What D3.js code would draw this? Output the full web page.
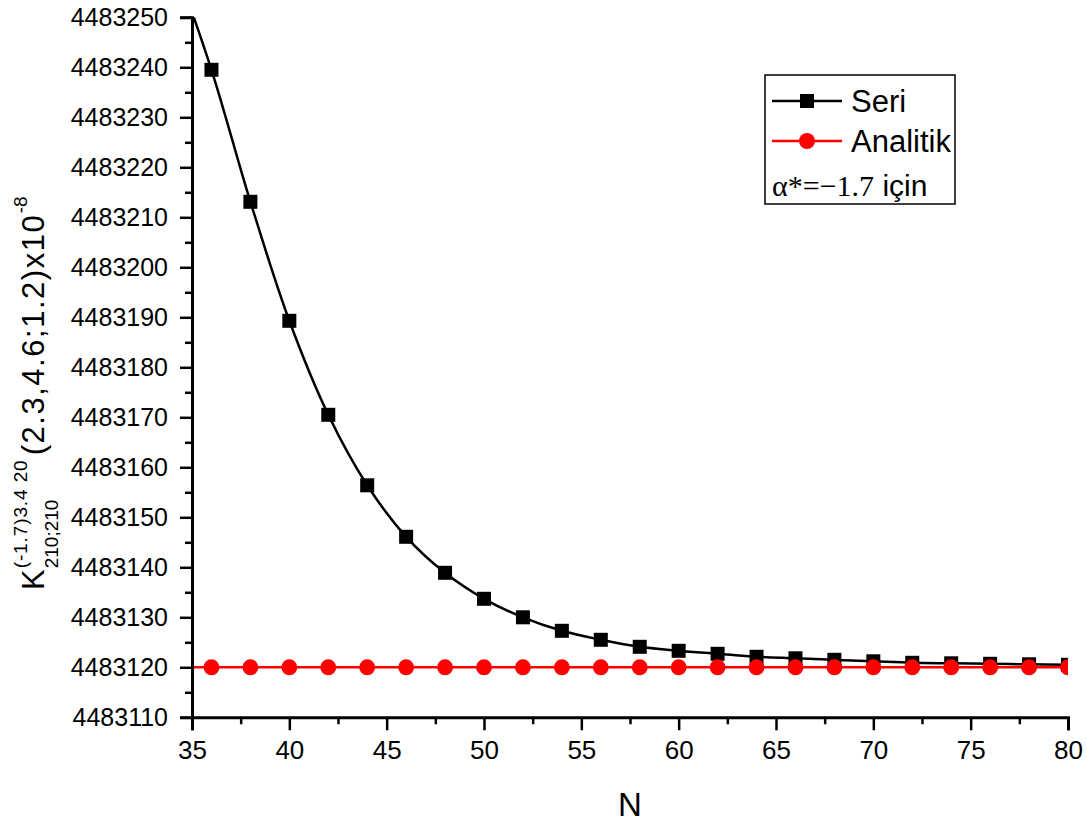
<!DOCTYPE html>
<html>
<head>
<meta charset="utf-8">
<script src="https://cdn.jsdelivr.net/npm/d3@7"></script>
<style>
  html, body { margin: 0; padding: 0; background: #fff; }
  svg { display: block; }
  text { font-family: Arial, "Liberation Sans", sans-serif; fill: #000; }
</style>
</head>
<body>
<svg id="chart" width="1086" height="825"></svg>
<script>
// ---- data ----
const nValues = [34, 36, 38, 40, 42, 44, 46, 48, 50, 52, 54, 56, 58, 60, 62, 64, 66, 68, 70, 72, 74, 76, 78, 80];
const seriValues = [4483262.0, 4483239.5, 4483213.1, 4483189.3, 4483170.5, 4483156.4, 4483146.1, 4483138.9,
  4483133.7, 4483130.0, 4483127.3, 4483125.5, 4483124.1, 4483123.3, 4483122.7, 4483122.1,
  4483121.8, 4483121.5, 4483121.2, 4483120.9, 4483120.8, 4483120.7, 4483120.6, 4483120.5];
const analitikValues = nValues.map(() => 4483120.0);
const xTicks = [35, 40, 45, 50, 55, 60, 65, 70, 75, 80];
const yTicks = [4483110, 4483120, 4483130, 4483140, 4483150, 4483160, 4483170, 4483180, 4483190, 4483200, 4483210, 4483220, 4483230, 4483240, 4483250];
const seriesNames = ["Seri", "Analitik"];

// ---- layout ----
const svg = d3.select("#chart");
const L = 192, R = 1068, T = 17.3, B = 717.3;
const x = d3.scaleLinear().domain([35, 80]).range([L, R]);
const y = d3.scaleLinear().domain([4483110, 4483250]).range([B, T]);

svg.append("defs").append("clipPath").attr("id", "clip")
  .append("rect").attr("x", L).attr("y", T).attr("width", R - L).attr("height", B - T);

const plot = svg.append("g").attr("clip-path", "url(#clip)");

const seri = nValues.map((n, i) => ({ n, v: seriValues[i] }));
const anal = nValues.map((n, i) => ({ n, v: analitikValues[i] }));

const line = d3.line().x(d => x(d.n)).y(d => y(d.v)).curve(d3.curveCatmullRom.alpha(0.5));

plot.append("path").datum(anal).attr("d", line)
  .attr("fill", "none").attr("stroke", "#ff0000").attr("stroke-width", 2.5);
plot.append("path").datum(seri).attr("d", line)
  .attr("fill", "none").attr("stroke", "#000").attr("stroke-width", 2.5);

plot.selectAll("rect.sq").data(seri).enter().append("rect").attr("class", "sq")
  .attr("x", d => x(d.n) - 7).attr("y", d => y(d.v) - 7)
  .attr("width", 14).attr("height", 14).attr("fill", "#000");

plot.selectAll("circle.ci").data(anal).enter().append("circle").attr("class", "ci")
  .attr("cx", d => x(d.n)).attr("cy", d => y(d.v)).attr("r", 8).attr("fill", "#ff0000");

// ---- axes ----
const yMinor = d3.range(4483115, 4483250, 10);
const xMinor = d3.range(37.5, 80, 5);

const yAxis = svg.append("g").attr("transform", `translate(${L},0)`)
  .call(d3.axisLeft(y).tickValues(yTicks).tickFormat(d3.format("d")).tickSize(12).tickPadding(12));
svg.append("g").attr("transform", `translate(${L},0)`)
  .call(d3.axisLeft(y).tickValues(yMinor).tickFormat("").tickSize(7))
  .call(g => g.select(".domain").remove());

const xAxis = svg.append("g").attr("transform", `translate(0,${B})`)
  .call(d3.axisBottom(x).tickValues(xTicks).tickFormat(d3.format("d")).tickSize(13).tickPadding(10));
svg.append("g").attr("transform", `translate(0,${B})`)
  .call(d3.axisBottom(x).tickValues(xMinor).tickFormat("").tickSize(7))
  .call(g => g.select(".domain").remove());

svg.selectAll(".domain").attr("stroke", "#000").attr("stroke-width", 3);
svg.selectAll(".tick line").attr("stroke", "#000").attr("stroke-width", 2.5);
yAxis.selectAll(".tick text").attr("font-size", 25);
xAxis.selectAll(".tick text").attr("font-size", 26);

// axis title N
svg.append("text").attr("x", 630).attr("y", 816).attr("text-anchor", "middle")
  .attr("font-size", 33).text("N");

// y axis title (rotated, composed)
const yl = svg.append("g").attr("transform", "translate(44,590) rotate(-90)");
const k = yl.append("text").attr("x", 0).attr("y", 0).attr("font-size", 31).text("K");
let cx = k.node().getComputedTextLength() + 1;
yl.append("text").attr("x", cx).attr("y", 14).attr("font-size", 19).text("210;210");
yl.append("text").attr("x", cx).attr("y", -17).attr("font-size", 19)
  .attr("xml:space", "preserve").attr("textLength", 108).attr("lengthAdjust", "spacing")
  .text("(-1.7)3.4 20");
cx += 113;
yl.append("text").attr("x", cx).attr("y", 0).attr("font-size", 31)
  .attr("textLength", 240).attr("lengthAdjust", "spacing").text("(2.3,4.6;1.2)x10");
cx += 242;
yl.append("text").attr("x", cx).attr("y", -17).attr("font-size", 19).text("-8");

// ---- legend ----
const lg = svg.append("g");
lg.append("rect").attr("x", 765).attr("y", 75).attr("width", 190).attr("height", 129)
  .attr("fill", "#fff").attr("stroke", "#000").attr("stroke-width", 1.5);
const rows = [
  { name: seriesNames[0], color: "#000", shape: "sq", yy: 101 },
  { name: seriesNames[1], color: "#ff0000", shape: "ci", yy: 141 }
];
rows.forEach(r => {
  lg.append("line").attr("x1", 772).attr("x2", 842).attr("y1", r.yy).attr("y2", r.yy)
    .attr("stroke", r.color).attr("stroke-width", 2.5);
  if (r.shape === "sq") {
    lg.append("rect").attr("x", 800).attr("y", r.yy - 7).attr("width", 14).attr("height", 14).attr("fill", r.color);
  } else {
    lg.append("circle").attr("cx", 807).attr("cy", r.yy).attr("r", 8).attr("fill", r.color);
  }
  lg.append("text").attr("x", 851).attr("y", r.yy + 11).attr("font-size", 31).text(r.name);
});
const at = lg.append("text").attr("x", 772).attr("y", 196).attr("font-size", 30);
at.append("tspan").attr("font-family", "'Times New Roman', 'Liberation Serif', serif").text("α*=−1.7");
at.append("tspan").attr("font-family", "Arial, 'Liberation Sans', sans-serif").text(" için");
</script>
</body>
</html>
